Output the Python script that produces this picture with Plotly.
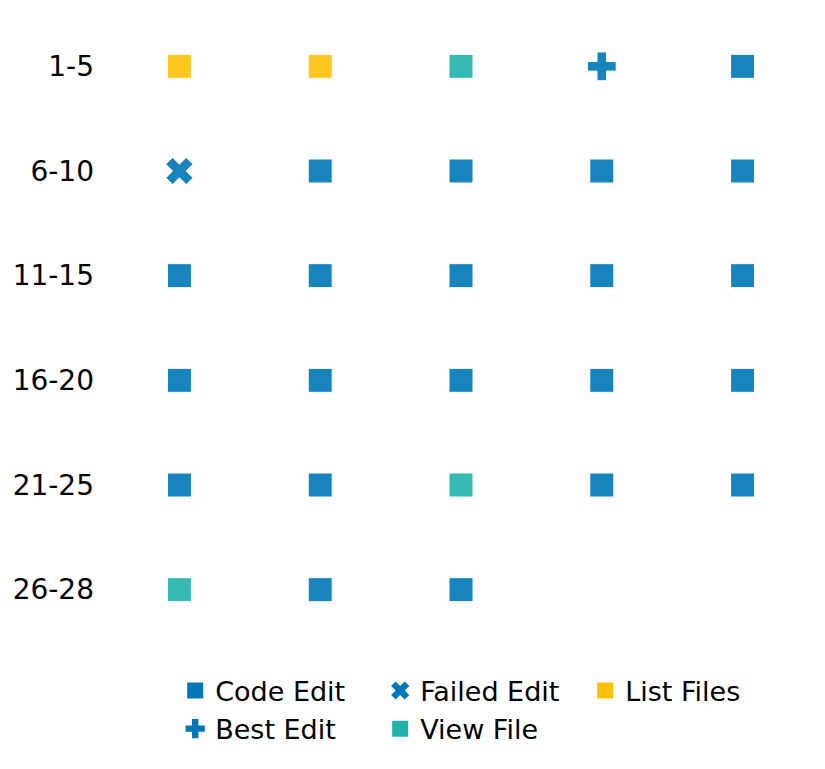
import plotly.graph_objects as go

rows = ["1-5", "6-10", "11-15", "16-20", "21-25", "26-28"]
steps = [
    "List Files", "List Files", "View File", "Best Edit", "Code Edit",
    "Failed Edit", "Code Edit", "Code Edit", "Code Edit", "Code Edit",
    "Code Edit", "Code Edit", "Code Edit", "Code Edit", "Code Edit",
    "Code Edit", "Code Edit", "Code Edit", "Code Edit", "Code Edit",
    "Code Edit", "Code Edit", "View File", "Code Edit", "Code Edit",
    "View File", "Code Edit", "Code Edit",
]
per_row = 5

legend_order = ["Code Edit", "Failed Edit", "List Files", "Best Edit", "View File"]
colors = {
    "Code Edit": "#0077B6",
    "Failed Edit": "#0077B6",
    "List Files": "#FFC107",
    "Best Edit": "#0077B6",
    "View File": "#20B2AA",
}
symbols = {
    "Code Edit": "square",
    "Failed Edit": "x",
    "List Files": "square",
    "Best Edit": "cross",
    "View File": "square",
}

fig = go.Figure()
for action in legend_order:
    xs, ys = [], []
    for i, s in enumerate(steps):
        if s == action:
            xs.append(i % per_row + 1)
            ys.append(rows[i // per_row])
    fig.add_trace(go.Scatter(
        x=xs, y=ys, mode="markers", name=action, legendgroup=action,
        showlegend=False,
        marker=dict(symbol=symbols[action], size=24, color=colors[action],
                    opacity=0.9, line=dict(color="white", width=1)),
        hoverinfo="skip",
    ))
    # legend entry drawn at full opacity
    fig.add_trace(go.Scatter(
        x=[None], y=[None], mode="markers", name=action, legendgroup=action,
        showlegend=True,
        marker=dict(symbol=symbols[action], size=24, color=colors[action],
                    opacity=1, line=dict(width=0)),
    ))

tick_font = dict(family="DejaVu Sans", size=28, color="black")
legend_font = dict(family="DejaVu Sans", size=27, color="black")
fig.update_layout(
    width=825, height=769,
    margin=dict(l=109, r=12, t=14, b=127),
    plot_bgcolor="white", paper_bgcolor="white",
    font=tick_font,
    xaxis=dict(range=[0.5, 5.5], visible=False),
    yaxis=dict(type="category", categoryorder="array", categoryarray=rows,
               range=[5.5, -0.5], showgrid=False, zeroline=False, showline=False,
               ticks="", ticklabelstandoff=14, tickfont=tick_font),
    showlegend=True,
    legend=dict(orientation="h", x=0.094, xanchor="left", y=-0.039, yanchor="top",
                entrywidth=160, entrywidthmode="pixels", font=legend_font,
                bgcolor="rgba(0,0,0,0)", itemclick=False, tracegroupgap=0),
)

fig.write_html("out.html")
